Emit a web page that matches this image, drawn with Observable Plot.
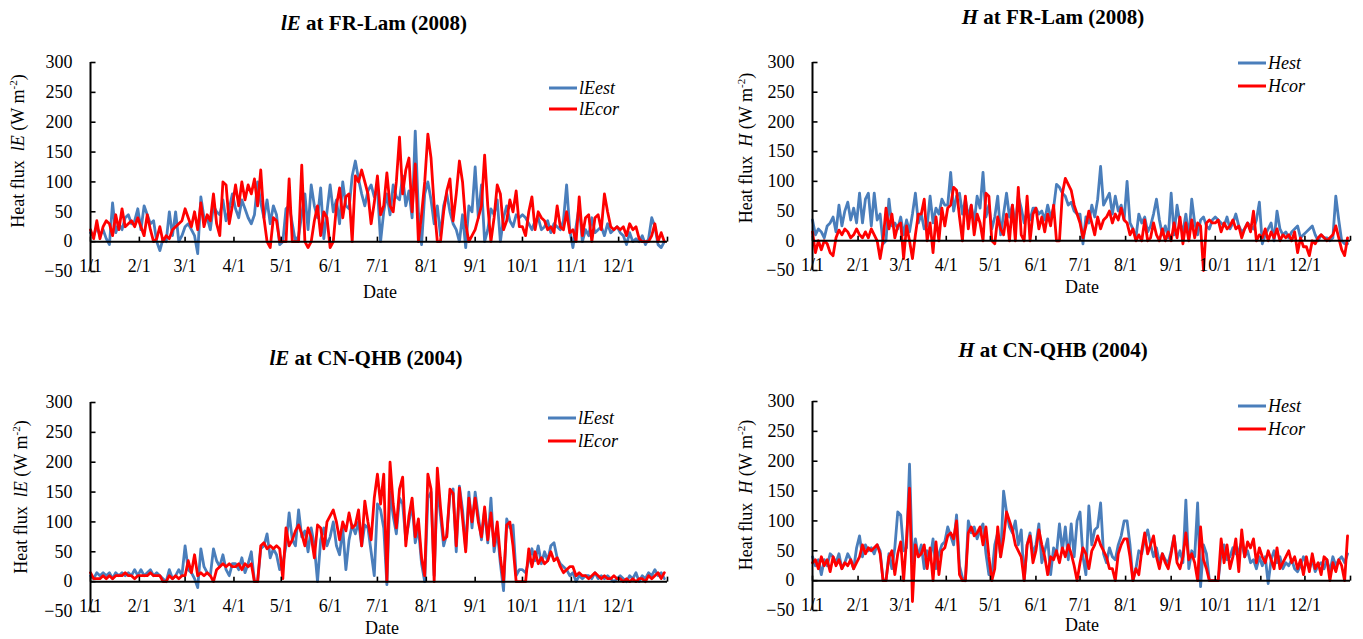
<!DOCTYPE html>
<html><head><meta charset="utf-8">
<script src="https://cdn.jsdelivr.net/npm/d3@7"></script>
<script src="https://cdn.jsdelivr.net/npm/@observablehq/plot@0.6"></script>
<style>
body{margin:0;background:#fff;}
#root{position:relative;width:1363px;height:639px;overflow:hidden;font-family:"Times New Roman","Liberation Serif",serif;color:#000;background:#fff;}
.abs{position:absolute;white-space:nowrap;}
.title{font-weight:bold;font-size:21px;transform:translate(-50%,-50%);}
.ylab{font-size:18px;transform:translate(-50%,-50%) rotate(-90deg);}
.date{font-size:18px;transform:translate(-50%,-50%);}
.leg{font-size:18px;font-style:italic;transform:translateY(-50%);display:flex;align-items:center;}
.sw{display:inline-block;width:28px;height:3px;margin-right:2px;}
sup{font-size:11px;vertical-align:super;line-height:0;}
svg text{font-family:"Times New Roman","Liberation Serif",serif;}
</style></head>
<body><div id="root"></div>
<script>
// ---- tick labels ----
const monthLabels = ["1/1","2/1","3/1","4/1","5/1","6/1","7/1","8/1","9/1","10/1","11/1","12/1"];
const yTicks = [-50, 0, 50, 100, 150, 200, 250, 300];
const STEP_DAYS = 2; // values read every second day

// ---- FR-Lam 2008, latent heat ----
const lamLEest = [
 15,10,25,10,20,5,-5,65,15,30,20,40,45,30,35,55,
 20,60,45,30,35,0,-15,5,0,50,10,50,0,10,
 25,30,20,10,-20,75,40,40,20,60,50,45,70,35,55,80,
 55,40,70,55,40,30,45,100,65,40,70,30,60,45,-5,
 0,55,60,30,0,10,45,80,20,95,60,40,90,5,50,
 95,50,70,30,100,60,55,110,135,105,80,60,85,95,75,
 90,0,50,80,45,95,75,70,110,60,85,40,185,50,-5,80,
 100,70,30,60,10,60,80,50,30,20,0,45,-10,60,50,
 125,40,95,0,20,55,45,70,0,40,60,35,25,45,40,
 45,40,30,20,35,40,20,25,35,15,30,25,20,35,95,20,
 -10,25,60,0,20,10,40,15,20,25,10,30,15,20,25,
 15,10,-5,15,0,5,0,10,-5,5,40,25,-5,-10,0];
const lamLEcor = [
 20,5,35,5,25,35,30,10,45,20,55,25,30,35,25,40,
 25,10,45,20,0,5,25,0,10,5,20,25,30,35,
 55,40,25,50,20,65,25,45,35,80,30,10,100,95,30,60,
 95,60,100,70,95,80,105,60,120,40,0,-10,40,35,0,
 0,0,105,0,0,0,128,0,-10,0,35,60,10,50,40,
 -10,0,60,90,40,75,80,0,110,100,120,100,80,30,65,
 110,45,60,115,60,50,100,175,80,120,140,50,130,0,45,100,
 180,140,60,0,0,50,85,105,35,80,135,100,30,0,10,
 20,40,60,145,60,0,40,95,80,20,35,70,50,85,25,
 25,10,50,75,20,50,40,35,20,25,15,60,25,20,50,15,
 20,0,75,10,40,45,0,40,45,20,80,50,25,20,25,
 20,25,10,30,20,25,5,0,0,0,10,30,0,15,0];

// ---- FR-Lam 2008, sensible heat ----
const lamHest = [
 35,10,20,15,5,25,30,40,15,60,25,50,65,35,55,30,
 80,30,70,80,25,80,35,45,-5,0,70,25,30,20,
 40,10,35,15,45,80,30,45,20,25,75,30,55,45,70,60,
 60,115,50,75,80,45,70,40,60,30,75,55,115,40,60,
 20,40,75,10,45,80,40,60,25,75,55,30,50,35,55,
 55,45,50,35,60,40,55,95,90,80,75,60,65,50,45,
 45,-5,40,30,60,40,70,125,60,70,80,45,75,50,60,35,
 100,30,20,5,45,30,40,15,25,45,70,35,10,25,5,
 80,10,60,30,15,45,5,70,30,10,35,40,25,20,35,
 40,35,30,25,40,20,30,45,25,15,20,30,25,20,35,65,
 -5,10,20,30,0,50,20,10,15,5,15,20,25,5,10,
 15,20,25,10,0,10,5,5,0,5,75,35,0,-5,-5];
const lamHcor = [
 15,-20,0,-15,0,-5,-20,-25,5,18,10,20,15,5,10,20,
 10,5,15,5,20,10,0,-30,0,55,20,45,5,25,
 30,-30,25,0,-30,10,45,45,70,0,30,-20,40,0,55,25,
 55,60,90,85,40,0,75,20,60,10,45,30,0,80,75,
 0,-5,40,20,10,45,0,60,0,90,10,0,75,0,45,
 55,20,40,15,45,25,60,0,0,80,105,95,85,60,45,
 30,5,25,50,30,10,40,20,35,40,50,30,45,35,55,35,
 30,10,20,0,10,0,35,0,5,30,10,0,20,0,15,
 0,30,5,40,-5,30,0,35,5,30,25,-50,30,35,30,
 30,35,15,30,20,25,35,20,25,5,20,30,15,50,0,10,
 5,20,0,15,5,20,0,10,5,10,0,15,-20,5,-10,
 -10,-25,0,-5,5,10,5,0,5,10,25,5,-15,-25,5];

// ---- CN-QHB 2004, latent heat ----
const qhbLEest = [
 10,5,15,10,15,10,15,5,15,10,15,10,15,10,20,10,
 20,10,15,20,10,15,10,5,0,20,5,10,20,10,
 60,20,15,5,-10,55,25,15,10,55,35,25,45,20,10,30,
 30,20,40,15,30,50,0,0,55,60,80,40,55,45,20,
 30,60,115,70,60,120,75,85,50,90,60,0,70,90,60,
 75,100,60,45,90,20,70,95,80,100,60,95,90,50,10,
 130,120,90,-5,150,110,80,140,130,70,100,130,65,90,30,0,
 140,150,10,160,110,60,80,145,155,50,160,120,55,150,90,
 150,110,70,120,65,140,50,85,30,-15,105,90,95,10,20,
 20,15,35,55,35,60,30,50,35,60,65,40,30,25,20,10,
 15,0,10,5,10,10,5,15,5,10,5,10,5,0,5,
 10,5,0,10,5,15,0,10,5,15,10,20,10,15,5];
const qhbLEcor = [
 15,5,5,5,10,5,10,5,10,10,10,15,10,10,5,10,
 10,10,10,15,10,10,10,0,0,10,5,10,5,10,
 10,35,15,45,10,15,10,15,10,0,20,25,30,25,30,25,
 25,30,20,30,25,30,0,0,60,65,55,60,55,60,55,
 5,90,60,70,85,95,80,60,90,75,40,95,90,55,100,
 110,120,100,70,100,85,115,90,95,120,60,135,100,70,140,
 180,130,180,0,200,130,90,155,175,60,110,140,75,105,40,10,
 180,155,0,190,125,70,75,155,148,60,157,105,50,140,100,
 140,100,75,125,70,115,60,100,40,0,95,100,60,0,0,
 0,0,55,25,50,30,40,30,35,50,35,40,25,15,20,25,
 25,10,15,10,10,5,10,15,10,5,10,5,5,10,5,
 5,0,5,0,5,0,5,5,0,10,5,10,15,5,15];

// ---- CN-QHB 2004, sensible heat ----
const qhbHest = [
 40,25,35,10,35,25,45,40,30,45,20,30,45,35,20,55,
 75,40,60,50,55,45,60,50,0,0,45,20,55,115,
 110,50,55,195,30,70,40,60,20,50,35,70,20,45,60,65,
 90,75,60,110,25,5,0,100,80,90,70,85,95,45,10,
 10,60,80,40,150,115,90,80,100,60,85,0,60,80,45,
 60,95,30,50,70,10,55,45,95,50,90,35,95,40,100,
 115,40,10,125,60,85,90,130,45,30,55,40,35,60,75,100,
 100,60,0,20,50,45,70,85,60,40,55,30,45,35,30,
 50,75,35,50,30,135,20,50,40,130,-10,60,45,0,0,
 0,0,45,60,35,40,55,45,50,65,40,50,30,35,20,40,
 25,40,-5,35,50,30,40,20,30,25,35,20,15,25,40,
 30,20,35,15,25,30,20,35,15,40,25,35,40,30,45];
const qhbHcor = [
 30,35,20,40,25,35,15,40,25,35,20,30,25,35,20,30,
 40,60,45,55,50,55,60,45,0,0,40,50,10,45,
 65,0,70,155,-35,60,40,45,60,20,55,0,65,10,50,55,
 75,80,70,100,10,0,0,80,90,75,80,90,60,90,40,
 0,20,90,40,70,115,100,85,60,50,40,0,60,75,30,
 50,85,60,40,10,40,35,50,30,55,40,60,45,25,0,
 30,55,45,20,50,60,75,60,50,40,20,20,0,45,60,70,
 70,40,0,20,10,50,80,45,60,75,40,20,45,30,20,
 45,75,30,20,40,80,35,45,30,0,90,35,20,0,0,
 0,0,70,30,60,20,40,70,15,85,40,65,55,70,30,55,
 40,30,50,35,20,55,20,30,40,50,30,40,20,35,10,
 40,15,45,20,30,10,40,35,0,30,15,35,25,0,75];

const BLUE = "#4A7EBB", RED = "#FF0000";
const SERIF = '"Times New Roman","Liberation Serif",serif';

const panels = [
 {year: 2008, est: lamLEest, cor: lamLEcor, estName: "lEest", corName: "lEcor",
  title: "<i>lE</i> at FR-Lam (2008)", ylab: "Heat flux&nbsp;&nbsp;<i>lE</i> (W m<sup>-2</sup>)",
  box: 0, left: 90, right: 667, top: 62, bottom: 271,
  titleX: 374, titleY: 23, ylabX: 18, ylabY: 151, dateX: 380, dateY: 292, legX: 549, legY: [88, 109]},
 {year: 2008, est: lamHest, cor: lamHcor, estName: "Hest", corName: "Hcor",
  title: "<i>H</i> at FR-Lam (2008)", ylab: "Heat flux&nbsp;&nbsp;<i>H</i> (W m<sup>-2</sup>)",
  box: 700, left: 812, right: 1350, top: 62, bottom: 270,
  titleX: 1053, titleY: 17, ylabX: 746, ylabY: 148, dateX: 1082, dateY: 287, legX: 1238, legY: [63, 86]},
 {year: 2004, est: qhbLEest, cor: qhbLEcor, estName: "lEest", corName: "lEcor",
  title: "<i>lE</i> at CN-QHB (2004)", ylab: "Heat flux&nbsp;&nbsp;<i>lE</i> (W m<sup>-2</sup>)",
  box: 0, left: 90, right: 667, top: 402, bottom: 611,
  titleX: 366, titleY: 358, ylabX: 21, ylabY: 497, dateX: 382, dateY: 628, legX: 548, legY: [418, 441]},
 {year: 2004, est: qhbHest, cor: qhbHcor, estName: "Hest", corName: "Hcor",
  title: "<i>H</i> at CN-QHB (2004)", ylab: "Heat flux&nbsp;&nbsp;<i>H</i> (W m<sup>-2</sup>)",
  box: 700, left: 812, right: 1350, top: 401, bottom: 610,
  titleX: 1053, titleY: 350, ylabX: 746, ylabY: 495, dateX: 1082, dateY: 625, legX: 1238, legY: [406, 429]}
];

const tickUp = {draw(ctx) { ctx.moveTo(0, 0); ctx.lineTo(0, -5); }};
const tickRight = {draw(ctx) { ctx.moveTo(0, 0); ctx.lineTo(5, 0); }};

const root = document.getElementById("root");
function addDiv(cls, html, x, y) {
  const d = document.createElement("div");
  d.className = "abs " + cls;
  d.style.left = x + "px"; d.style.top = y + "px";
  d.innerHTML = html;
  root.appendChild(d);
  return d;
}

for (const p of panels) {
  const start = new Date(Date.UTC(p.year, 0, 1));
  const end = new Date(Date.UTC(p.year + 1, 0, 1));
  const rows = (arr) => arr.map((v, i) => ({date: d3.utcDay.offset(start, i * STEP_DAYS), v}));
  const months = d3.utcMonth.range(start, end);
  const tickDates = months.concat([end]);
  const chart = Plot.plot({
    width: p.right + 10 - p.box,
    height: p.bottom - p.top + 20,
    marginLeft: p.left - p.box, marginRight: 10, marginTop: 10, marginBottom: 10,
    x: {type: "utc", domain: [start, end]},
    y: {domain: [-50, 300]},
    style: {fontFamily: SERIF, fontSize: "18px", color: "black", background: "transparent", overflow: "visible"},
    marks: [
      Plot.line(rows(p.est), {x: "date", y: "v", stroke: BLUE, strokeWidth: 2.8, strokeLinejoin: "round"}),
      Plot.line(rows(p.cor), {x: "date", y: "v", stroke: RED, strokeWidth: 2.8, strokeLinejoin: "round"}),
      Plot.ruleY([0], {stroke: "black", strokeWidth: 2}),
      Plot.ruleX([start], {stroke: "black", strokeWidth: 2}),
      Plot.dot(tickDates, {x: d => d, y: () => 0, symbol: tickUp, fill: "none", stroke: "black", strokeWidth: 1.6}),
      Plot.dot(yTicks, {x: () => start, y: d => d, symbol: tickRight, fill: "none", stroke: "black", strokeWidth: 1.6}),
      Plot.axisY({ticks: yTicks, tickSize: 0, tickPadding: 18, fontSize: 18, fontFamily: SERIF, label: null}),
      Plot.axisX({ticks: months, tickFormat: d => monthLabels[d.getUTCMonth()], tickSize: 0, tickPadding: -12, fontSize: 18, fontFamily: SERIF, label: null})
    ]
  });
  const wrap = document.createElement("div");
  wrap.className = "abs";
  wrap.style.left = p.box + "px";
  wrap.style.top = (p.top - 10) + "px";
  wrap.appendChild(chart);
  root.appendChild(wrap);

  addDiv("title", p.title, p.titleX, p.titleY);
  addDiv("ylab", p.ylab, p.ylabX, p.ylabY);
  addDiv("date", "Date", p.dateX, p.dateY);
  addDiv("leg", `<span class="sw" style="background:${BLUE}"></span>${p.estName}`, p.legX, p.legY[0]);
  addDiv("leg", `<span class="sw" style="background:${RED}"></span>${p.corName}`, p.legX, p.legY[1]);
}
</script></body></html>
